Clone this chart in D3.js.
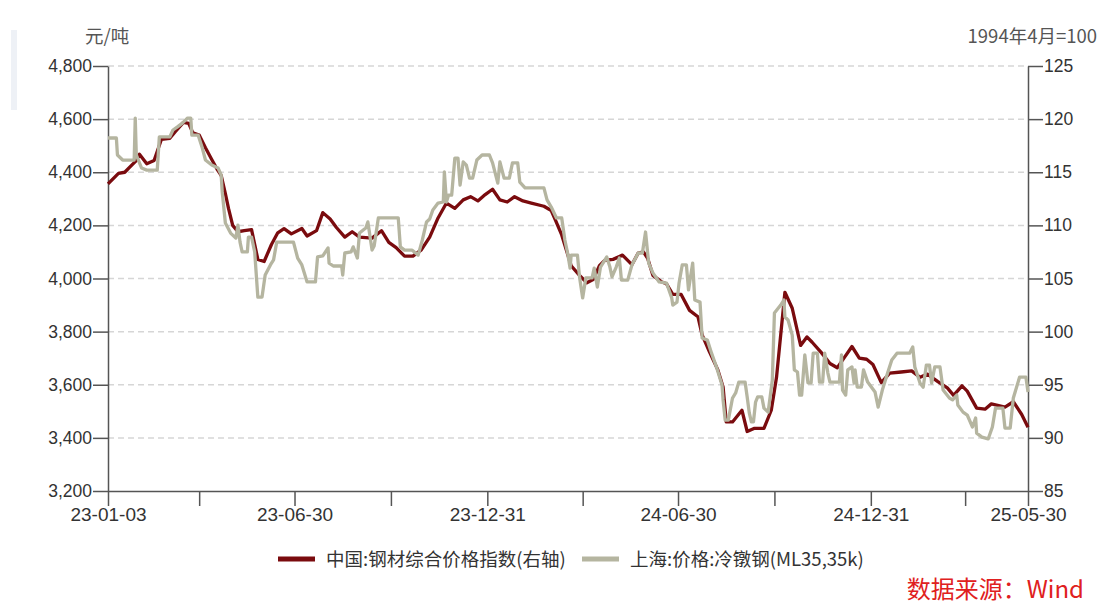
<!DOCTYPE html>
<html>
<head>
<meta charset="utf-8">
<script src="https://cdn.jsdelivr.net/npm/d3@7"></script>
<style>
  html, body { margin: 0; padding: 0; background: #fff; }
  svg { display: block; font-family: "Noto Sans CJK SC", "Noto Sans", sans-serif; }
</style>
</head>
<body>
<div id="chart"></div>
<script>
// China steel composite price index (right axis, 1994-04 = 100)
const indexSeries = [
  ['2023-01-03', 113.9], ['2023-01-13', 114.9], ['2023-01-19', 115.0], ['2023-01-24', 115.5],
  ['2023-01-30', 116.1], ['2023-02-02', 116.7], ['2023-02-09', 115.8], ['2023-02-16', 116.1],
  ['2023-02-23', 118.1], ['2023-03-03', 118.2], ['2023-03-08', 118.8], ['2023-03-16', 119.7],
  ['2023-03-21', 119.6], ['2023-03-25', 118.7], ['2023-03-31', 118.5], ['2023-04-06', 117.3],
  ['2023-04-12', 116.2], ['2023-04-17', 115.3], ['2023-04-21', 114.7], ['2023-04-25', 113.0],
  ['2023-04-28', 111.6], ['2023-05-02', 110.0], ['2023-05-07', 109.4], ['2023-05-13', 109.5],
  ['2023-05-20', 109.6], ['2023-05-26', 106.8], ['2023-06-01', 106.6], ['2023-06-08', 108.2],
  ['2023-06-14', 109.3], ['2023-06-20', 109.7], ['2023-06-27', 109.2], ['2023-07-07', 109.7],
  ['2023-07-12', 109.0], ['2023-07-21', 109.5], ['2023-07-27', 111.2], ['2023-08-03', 110.6],
  ['2023-08-09', 109.8], ['2023-08-17', 108.9], ['2023-08-24', 109.4], ['2023-08-31', 108.9],
  ['2023-09-12', 108.8], ['2023-09-21', 109.5], ['2023-09-28', 108.4], ['2023-10-05', 107.9],
  ['2023-10-13', 107.1], ['2023-10-21', 107.1], ['2023-10-29', 107.7], ['2023-11-06', 108.9],
  ['2023-11-14', 110.7], ['2023-11-22', 112.1], ['2023-11-30', 111.6], ['2023-12-08', 112.4],
  ['2023-12-15', 112.7], ['2023-12-22', 112.3], ['2023-12-29', 112.9], ['2024-01-05', 113.4],
  ['2024-01-12', 112.4], ['2024-01-19', 112.2], ['2024-01-26', 112.7], ['2024-02-03', 112.3],
  ['2024-02-11', 112.1], ['2024-02-23', 111.8], ['2024-03-01', 111.4], ['2024-03-05', 110.5],
  ['2024-03-11', 109.1], ['2024-03-16', 107.5], ['2024-03-20', 106.2], ['2024-03-28', 105.3],
  ['2024-04-04', 104.6], ['2024-04-10', 104.9], ['2024-04-16', 106.2], ['2024-04-21', 106.7],
  ['2024-04-29', 106.8], ['2024-05-08', 107.2], ['2024-05-17', 106.3], ['2024-05-23', 107.4],
  ['2024-05-28', 107.5], ['2024-06-01', 106.9], ['2024-06-06', 105.3], ['2024-06-14', 104.7],
  ['2024-06-19', 104.5], ['2024-06-25', 103.5], ['2024-07-03', 103.5], ['2024-07-11', 102.0],
  ['2024-07-19', 101.4], ['2024-07-23', 99.7], ['2024-07-30', 98.1], ['2024-08-07', 96.4],
  ['2024-08-12', 94.8], ['2024-08-15', 91.5], ['2024-08-21', 91.5], ['2024-08-30', 92.6],
  ['2024-09-04', 90.6], ['2024-09-11', 90.9], ['2024-09-20', 90.9], ['2024-09-27', 92.6],
  ['2024-10-02', 95.7], ['2024-10-10', 103.7], ['2024-10-17', 102.2], ['2024-10-25', 98.7],
  ['2024-10-31', 99.5], ['2024-11-05', 99.0], ['2024-11-14', 98.0], ['2024-11-22', 97.0],
  ['2024-11-29', 96.6], ['2024-12-06', 97.6], ['2024-12-13', 98.6], ['2024-12-20', 97.5],
  ['2024-12-27', 97.4], ['2025-01-02', 96.9], ['2025-01-10', 95.2], ['2025-01-18', 96.1],
  ['2025-01-29', 96.2], ['2025-02-08', 96.3], ['2025-02-16', 95.7], ['2025-02-23', 96.0],
  ['2025-03-05', 95.3], ['2025-03-14', 94.7], ['2025-03-20', 94.0], ['2025-03-28', 94.9],
  ['2025-04-02', 94.4], ['2025-04-11', 92.8], ['2025-04-19', 92.7], ['2025-04-25', 93.2],
  ['2025-05-08', 92.9], ['2025-05-16', 93.4], ['2025-05-24', 92.2], ['2025-05-30', 91.0]
];

// Shanghai cold heading steel ML35 price, yuan/ton (left axis)
const coldHeadingSeries = [
  ['2023-01-03', 4529], ['2023-01-11', 4529], ['2023-01-12', 4465], ['2023-01-17', 4446],
  ['2023-01-28', 4446], ['2023-01-29', 4604], ['2023-01-30', 4465], ['2023-02-04', 4416],
  ['2023-02-09', 4408], ['2023-02-19', 4408], ['2023-02-21', 4533], ['2023-03-03', 4533],
  ['2023-03-06', 4559], ['2023-03-10', 4570], ['2023-03-15', 4585], ['2023-03-20', 4604],
  ['2023-03-23', 4604], ['2023-03-24', 4540], ['2023-03-30', 4540], ['2023-04-03', 4491],
  ['2023-04-06', 4446], ['2023-04-12', 4427], ['2023-04-18', 4416], ['2023-04-21', 4390],
  ['2023-04-22', 4326], ['2023-04-25', 4209], ['2023-04-30', 4171], ['2023-05-05', 4152],
  ['2023-05-07', 4201], ['2023-05-09', 4137], ['2023-05-11', 4100], ['2023-05-16', 4100],
  ['2023-05-17', 4156], ['2023-05-20', 4156], ['2023-05-23', 4100], ['2023-05-26', 3930],
  ['2023-05-30', 3930], ['2023-06-02', 4013], ['2023-06-07', 4051], ['2023-06-10', 4070],
  ['2023-06-13', 4137], ['2023-06-29', 4137], ['2023-07-03', 4077], ['2023-07-07', 4051],
  ['2023-07-12', 3987], ['2023-07-20', 3987], ['2023-07-22', 4081], ['2023-07-27', 4085],
  ['2023-08-01', 4115], ['2023-08-02', 4058], ['2023-08-06', 4047], ['2023-08-14', 4047],
  ['2023-08-15', 4013], ['2023-08-17', 4096], ['2023-08-23', 4100], ['2023-08-25', 4119],
  ['2023-08-29', 4077], ['2023-08-31', 4171], ['2023-09-06', 4190], ['2023-09-08', 4213],
  ['2023-09-12', 4107], ['2023-09-14', 4122], ['2023-09-18', 4228], ['2023-10-07', 4228],
  ['2023-10-09', 4119], ['2023-10-13', 4107], ['2023-10-20', 4107], ['2023-10-26', 4088],
  ['2023-10-30', 4145], ['2023-11-03', 4213], ['2023-11-06', 4224], ['2023-11-09', 4258],
  ['2023-11-14', 4284], ['2023-11-19', 4288], ['2023-11-20', 4401], ['2023-11-22', 4288],
  ['2023-11-24', 4314], ['2023-11-27', 4314], ['2023-11-30', 4453], ['2023-12-03', 4453],
  ['2023-12-05', 4352], ['2023-12-08', 4439], ['2023-12-11', 4427], ['2023-12-14', 4378],
  ['2023-12-17', 4378], ['2023-12-21', 4446], ['2023-12-26', 4465], ['2024-01-02', 4465],
  ['2024-01-05', 4435], ['2024-01-10', 4359], ['2024-01-12', 4439], ['2024-01-16', 4378],
  ['2024-01-21', 4378], ['2024-01-24', 4435], ['2024-01-29', 4435], ['2024-01-31', 4363],
  ['2024-02-05', 4341], ['2024-02-23', 4341], ['2024-02-26', 4296], ['2024-03-01', 4269],
  ['2024-03-06', 4228], ['2024-03-11', 4228], ['2024-03-14', 4145], ['2024-03-17', 4088],
  ['2024-03-19', 4039], ['2024-03-20', 4088], ['2024-03-26', 4088], ['2024-03-28', 4006],
  ['2024-03-31', 3927], ['2024-04-03', 4002], ['2024-04-09', 4002], ['2024-04-11', 4039],
  ['2024-04-14', 3968], ['2024-04-17', 4043], ['2024-04-23', 4081], ['2024-04-26', 4043],
  ['2024-04-28', 4006], ['2024-05-02', 4043], ['2024-05-05', 4077], ['2024-05-07', 3994],
  ['2024-05-13', 3994], ['2024-05-17', 4051], ['2024-05-23', 4096], ['2024-05-27', 4096],
  ['2024-05-30', 4175], ['2024-06-02', 4058], ['2024-06-06', 4021], ['2024-06-12', 3987],
  ['2024-06-19', 3983], ['2024-06-24', 3927], ['2024-06-25', 3900], ['2024-06-29', 3911],
  ['2024-07-01', 3983], ['2024-07-04', 4051], ['2024-07-08', 4051], ['2024-07-10', 3957],
  ['2024-07-14', 4058], ['2024-07-16', 3919], ['2024-07-21', 3911], ['2024-07-23', 3776],
  ['2024-07-28', 3768], ['2024-08-01', 3719], ['2024-08-06', 3663], ['2024-08-11', 3599],
  ['2024-08-12', 3543], ['2024-08-14', 3467], ['2024-08-17', 3467], ['2024-08-21', 3550],
  ['2024-08-24', 3569], ['2024-08-27', 3610], ['2024-09-02', 3610], ['2024-09-04', 3554],
  ['2024-09-06', 3494], ['2024-09-08', 3460], ['2024-09-10', 3460], ['2024-09-12', 3535],
  ['2024-09-14', 3554], ['2024-09-18', 3554], ['2024-09-20', 3512], ['2024-09-24', 3497],
  ['2024-09-28', 3618], ['2024-09-30', 3870], ['2024-10-06', 3900], ['2024-10-09', 3919],
  ['2024-10-10', 3855], ['2024-10-13', 3844], ['2024-10-17', 3787], ['2024-10-19', 3656],
  ['2024-10-22', 3648], ['2024-10-24', 3561], ['2024-10-26', 3561], ['2024-10-29', 3712],
  ['2024-11-01', 3607], ['2024-11-04', 3607], ['2024-11-06', 3719], ['2024-11-10', 3719],
  ['2024-11-12', 3610], ['2024-11-15', 3610], ['2024-11-17', 3719], ['2024-11-20', 3644],
  ['2024-11-22', 3610], ['2024-12-01', 3610], ['2024-12-03', 3712], ['2024-12-04', 3580],
  ['2024-12-07', 3561], ['2024-12-09', 3656], ['2024-12-13', 3667], ['2024-12-15', 3606],
  ['2024-12-16', 3656], ['2024-12-18', 3591], ['2024-12-22', 3591], ['2024-12-24', 3656],
  ['2024-12-28', 3610], ['2025-01-04', 3573], ['2025-01-07', 3516], ['2025-01-11', 3580],
  ['2025-01-16', 3644], ['2025-01-20', 3693], ['2025-01-25', 3719], ['2025-02-06', 3719],
  ['2025-02-09', 3742], ['2025-02-11', 3667], ['2025-02-16', 3606], ['2025-02-19', 3591],
  ['2025-02-22', 3674], ['2025-02-25', 3674], ['2025-02-27', 3606], ['2025-03-02', 3667],
  ['2025-03-07', 3667], ['2025-03-10', 3580], ['2025-03-16', 3550], ['2025-03-19', 3543],
  ['2025-03-23', 3561], ['2025-03-24', 3524], ['2025-03-29', 3497], ['2025-04-02', 3486],
  ['2025-04-07', 3441], ['2025-04-10', 3475], ['2025-04-11', 3418], ['2025-04-16', 3403],
  ['2025-04-22', 3396], ['2025-04-26', 3441], ['2025-04-29', 3512], ['2025-05-06', 3512],
  ['2025-05-08', 3437], ['2025-05-13', 3437], ['2025-05-16', 3550], ['2025-05-22', 3629],
  ['2025-05-28', 3629], ['2025-05-30', 3573]
];

const xTickDates = ['2023-01-03', '2023-03-31', '2023-06-30', '2023-09-30', '2023-12-31',
  '2024-03-31', '2024-06-30', '2024-09-30', '2024-12-31', '2025-03-31', '2025-05-30'];
const xLabelDates = ['2023-01-03', '2023-06-30', '2023-12-31', '2024-06-30', '2024-12-31', '2025-05-30'];
const leftTicks = [3200, 3400, 3600, 3800, 4000, 4200, 4400, 4600, 4800];
const rightTicks = [85, 90, 95, 100, 105, 110, 115, 120, 125];

const seriesNames = ['中国:钢材综合价格指数(右轴)', '上海:价格:冷镦钢(ML35,35k)'];
const seriesColors = ['#7a0b0e', '#b5b5a0'];

const width = 1101, height = 612;
const margin = { top: 66, right: 73, bottom: 121, left: 108 };
const innerW = width - margin.left - margin.right;
const innerH = height - margin.top - margin.bottom;

const parse = d3.timeParse('%Y-%m-%d');

const svg = d3.select('#chart').append('svg')
  .attr('width', width)
  .attr('height', height);

// faint strip on the far left edge
svg.append('rect')
  .attr('x', 11).attr('y', 30).attr('width', 6).attr('height', 80)
  .attr('fill', '#eef1f6');

const g = svg.append('g')
  .attr('transform', `translate(${margin.left},${margin.top})`);

const x = d3.scaleTime()
  .domain([parse('2023-01-03'), parse('2025-05-30')])
  .range([0, innerW]);
const yLeft = d3.scaleLinear().domain([3200, 4800]).range([innerH, 0]);
const yRight = d3.scaleLinear().domain([85, 125]).range([innerH, 0]);

// dashed horizontal grid
g.append('g')
  .selectAll('line')
  .data(leftTicks.filter(t => t > 3200))
  .join('line')
  .attr('x1', 0).attr('x2', innerW)
  .attr('y1', d => yLeft(d)).attr('y2', d => yLeft(d))
  .attr('stroke', '#d6d6d6')
  .attr('stroke-width', 1.5)
  .attr('stroke-dasharray', '6,4');

const labelSet = new Set(xLabelDates);
const fmtLabel = d3.timeFormat('%y-%m-%d');

function styleAxis(sel, size) {
  sel.select('.domain').attr('stroke', '#555').attr('stroke-width', 1.5);
  sel.selectAll('.tick line').attr('stroke', '#555').attr('stroke-width', 1.5);
  sel.selectAll('.tick text').attr('fill', '#333').style('font-size', size);
}

// x axis
g.append('g')
  .attr('transform', `translate(0,${innerH})`)
  .call(d3.axisBottom(x)
    .tickValues(xTickDates.map(parse))
    .tickSize(15)
    .tickSizeOuter(0)
    .tickPadding(2)
    .tickFormat(d => labelSet.has(d3.timeFormat('%Y-%m-%d')(d)) ? fmtLabel(d) : ''))
  .call(styleAxis, '19px');

// left axis
g.append('g')
  .call(d3.axisLeft(yLeft)
    .tickValues(leftTicks)
    .tickSize(15)
    .tickSizeOuter(0)
    .tickPadding(1)
    .tickFormat(d3.format(',')))
  .call(styleAxis, '17.5px');

// right axis
g.append('g')
  .attr('transform', `translate(${innerW},0)`)
  .call(d3.axisRight(yRight)
    .tickValues(rightTicks)
    .tickSize(15)
    .tickSizeOuter(0)
    .tickPadding(1))
  .call(styleAxis, '17.5px');

// units
svg.append('text')
  .attr('x', 85).attr('y', 43)
  .attr('fill', '#555').style('font-size', '18.5px')
  .text('元/吨');
svg.append('text')
  .attr('x', 1097).attr('y', 43)
  .attr('text-anchor', 'end')
  .attr('fill', '#555').style('font-size', '18.5px')
  .text('1994年4月=100');

// lines
const lineRight = d3.line()
  .x(d => x(parse(d[0])))
  .y(d => yRight(d[1]));
const lineLeft = d3.line()
  .x(d => x(parse(d[0])))
  .y(d => yLeft(d[1]));

g.append('path')
  .datum(indexSeries)
  .attr('d', lineRight)
  .attr('fill', 'none')
  .attr('stroke', seriesColors[0])
  .attr('stroke-width', 3.3)
  .attr('stroke-linejoin', 'round');

g.append('path')
  .datum(coldHeadingSeries)
  .attr('d', lineLeft)
  .attr('fill', 'none')
  .attr('stroke', seriesColors[1])
  .attr('stroke-width', 3.3)
  .attr('stroke-linejoin', 'round');

// legend
const legend = svg.append('g').attr('transform', 'translate(278,559)');
const legendX = [0, 304];
seriesNames.forEach((name, i) => {
  const item = legend.append('g').attr('transform', `translate(${legendX[i]},0)`);
  item.append('line')
    .attr('x1', 0).attr('x2', 37)
    .attr('stroke', seriesColors[i])
    .attr('stroke-width', 5);
  item.append('text')
    .attr('x', 48).attr('y', 6.5)
    .attr('fill', '#333').style('font-size', '18.5px')
    .text(name);
});

// source
svg.append('text')
  .attr('x', 1084).attr('y', 598)
  .attr('text-anchor', 'end')
  .attr('fill', '#e02020').style('font-size', '24px')
  .text('数据来源：Wind');
</script>
</body>
</html>
